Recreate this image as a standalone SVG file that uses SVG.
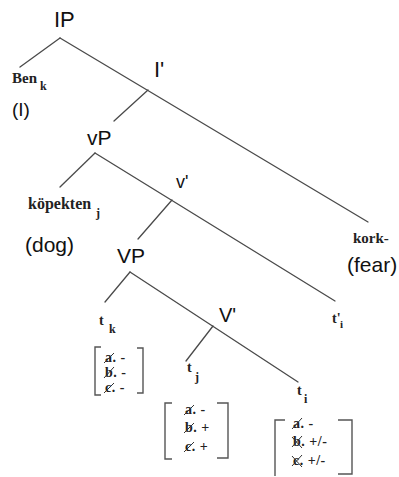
<svg xmlns="http://www.w3.org/2000/svg" width="399" height="477" viewBox="0 0 399 477">
<style>
.e{stroke:#4a4a4a;stroke-width:1.3;fill:none;stroke-linecap:round}
.s{font-family:"Liberation Sans",Arial,sans-serif;fill:#111}
.b{font-family:"Liberation Serif","Times New Roman",serif;font-weight:bold;fill:#222}
.r{font-family:"Liberation Serif","Times New Roman",serif;font-weight:bold;fill:#222;font-size:14px;letter-spacing:0.5px}
.br{stroke:#555;stroke-width:1.4;fill:none}
.x{stroke:#333;stroke-width:1;fill:none}
</style>
<rect width="399" height="477" fill="#fff"/>
<g id="connectors">
<line class="e" x1="60" y1="38" x2="20" y2="67"/>
<line class="e" x1="60" y1="38" x2="368" y2="222"/>
<line class="e" x1="148" y1="90" x2="114" y2="121"/>
<line class="e" x1="95" y1="153" x2="60" y2="187"/>
<line class="e" x1="95" y1="153" x2="335" y2="301"/>
<line class="e" x1="172" y1="200" x2="138" y2="239"/>
<line class="e" x1="130" y1="272" x2="105" y2="302"/>
<line class="e" x1="130" y1="272" x2="298" y2="382"/>
<line class="e" x1="213" y1="326" x2="186" y2="361"/>
</g>
<g id="IP"><text class="s" x="54" y="27" font-size="22">IP</text></g>
<g id="Ibar"><text class="s" x="154" y="77" font-size="22">I'</text></g>
<g id="Ben"><text class="b" x="12" y="83" font-size="15">Ben</text><text class="b" x="40" y="90" font-size="12">k</text>
<text class="s" x="12" y="116" font-size="19">(I)</text></g>
<g id="vP"><text class="s" x="87" y="145" font-size="21">vP</text></g>
<g id="vbar"><text class="s" x="176" y="188" font-size="18">v'</text></g>
<g id="kopekten"><text class="b" x="28" y="209" font-size="16">köpekten</text><text class="b" x="96" y="217" font-size="12">j</text>
<text class="s" x="25" y="252" font-size="21">(dog)</text></g>
<g id="kork"><text class="b" x="353" y="243" font-size="15">kork-</text>
<text class="s" x="347" y="272" font-size="21">(fear)</text></g>
<g id="VP"><text class="s" x="117" y="263" font-size="21">VP</text></g>
<g id="Vbar"><text class="s" x="219" y="322" font-size="20">V'</text></g>
<g id="tprime_i"><text class="b" x="332" y="323" font-size="14">t'</text><text class="b" x="340" y="328" font-size="11">i</text></g>
<g id="t_k"><text class="b" x="99" y="325" font-size="14">t</text><text class="b" x="109" y="333" font-size="12">k</text>
<path class="br" d="M101,347 H95 V395 H101 M137,348 H143 V393 H137"/>
<text class="r" x="105" y="362">a. -</text>
<text class="r" x="105" y="377">b. -</text>
<text class="r" x="105" y="392">c. -</text>
<line class="x" x1="104" y1="363" x2="114" y2="353"/>
<line class="x" x1="104" y1="378" x2="114" y2="367"/>
<line class="x" x1="104" y1="393" x2="114" y2="383"/>
</g>
<g id="t_j"><text class="b" x="187" y="372" font-size="14">t</text><text class="b" x="195" y="381" font-size="12">j</text>
<path class="br" d="M172,403 H165 V459 H172 M217,403 H228 V458 H217"/>
<text class="r" x="185" y="414">a. -</text>
<text class="r" x="185" y="432">b. +</text>
<text class="r" x="185" y="451">c. +</text>
<line class="x" x1="184" y1="415" x2="194" y2="405"/>
<line class="x" x1="184" y1="433" x2="194" y2="423"/>
<line class="x" x1="184" y1="452" x2="194" y2="442"/>
</g>
<g id="t_i"><text class="b" x="297" y="395" font-size="14">t</text><text class="b" x="304" y="403" font-size="12">i</text>
<path class="br" d="M285,420 H275 V476 M338,420 H352 V474 H338"/>
<text class="r" x="293" y="428">a. -</text>
<text class="r" x="293" y="446">b. +/-</text>
<text class="r" x="293" y="465">c. +/-</text>
<line class="x" x1="292" y1="429" x2="302" y2="418"/>
<line class="x" x1="292" y1="447" x2="302" y2="436"/>
<line class="x" x1="292" y1="437" x2="302" y2="448"/>
<line class="x" x1="292" y1="466" x2="302" y2="455"/>
<line class="x" x1="292" y1="456" x2="302" y2="467"/>
</g>
</svg>
